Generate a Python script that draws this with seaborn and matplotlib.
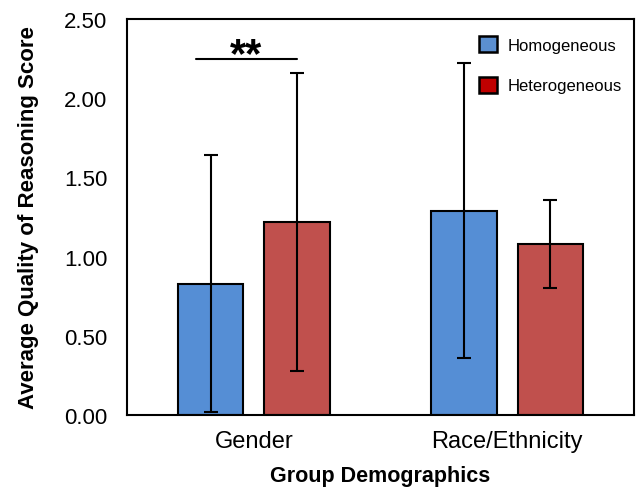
import matplotlib
matplotlib.use("Agg")
import matplotlib.pyplot as plt
from matplotlib.patches import Patch
import pandas as pd
import seaborn as sns

# Data
groups = ["Gender", "Race/Ethnicity"]
conditions = ["Homogeneous", "Heterogeneous"]
homogeneous_mean = [0.83, 1.29]
heterogeneous_mean = [1.22, 1.08]
homogeneous_sd = [0.81, 0.93]
heterogeneous_sd = [0.94, 0.28]

sns.set_style("white")
plt.rcParams["font.family"] = ["Liberation Sans", "DejaVu Sans"]
plt.rcParams["text.color"] = "black"
plt.rcParams["axes.labelcolor"] = "black"
plt.rcParams["xtick.color"] = "black"
plt.rcParams["ytick.color"] = "black"

df = pd.DataFrame({
    "Group": groups * 2,
    "Condition": [conditions[0]] * 2 + [conditions[1]] * 2,
    "Score": homogeneous_mean + heterogeneous_mean,
    "SD": homogeneous_sd + heterogeneous_sd,
})

bar_colors = {"Homogeneous": "#558ED5", "Heterogeneous": "#C0504D"}

fig = plt.figure(figsize=(6.38, 4.89), dpi=100)
ax = fig.add_axes([127 / 638, 1 - 416 / 489, (634 - 127) / 638, (416 - 20) / 489])

sns.barplot(
    data=df, x="Group", y="Score", hue="Condition", hue_order=conditions,
    order=groups, palette=bar_colors, width=0.68, gap=0.24, saturation=1,
    edgecolor="black", linewidth=1.5, errorbar=None, legend=False, ax=ax,
)

# Error bars on each bar
for i, cond in enumerate(conditions):
    sub = df[df["Condition"] == cond].set_index("Group").loc[groups]
    bars = ax.containers[i]
    xs = [b.get_x() + b.get_width() / 2 for b in bars]
    ax.errorbar(xs, sub["Score"], yerr=sub["SD"], fmt="none",
                ecolor="black", elinewidth=1.5, capsize=5, capthick=1.5)

# Significance marker
bars_h = ax.containers[0]
bars_t = ax.containers[1]
x1 = bars_h[0].get_x() + bars_h[0].get_width() * 0.27
x2 = bars_t[0].get_x() + bars_t[0].get_width() / 2
ax.plot([x1, x2], [2.25, 2.25], color="black", lw=1.5)
ax.text((x1 + x2) / 2, 2.2, "**", ha="center", va="baseline",
        fontsize=30, fontweight="bold")

ax.set_ylim(0, 2.5)
ax.set_xlim(-0.5, 1.5)
ax.set_yticks([0, 0.5, 1.0, 1.5, 2.0, 2.5])
ax.set_yticklabels([f"{v:.2f}" for v in ax.get_yticks()])
ax.tick_params(axis="y", labelsize=16, length=0, pad=14)
ax.tick_params(axis="x", labelsize=17, length=0, pad=11)
ax.set_xlabel("Group Demographics", fontsize=15.5, fontweight="bold", labelpad=9)
ax.set_ylabel("Average Quality of Reasoning Score", fontsize=16,
              fontweight="bold", labelpad=18)
for s in ax.spines.values():
    s.set_color("black")
    s.set_linewidth(1.5)

handles = [Patch(facecolor="#5B8FD0", edgecolor="black", linewidth=1.8),
           Patch(facecolor="#C00000", edgecolor="black", linewidth=1.8)]
ax.legend(handles, conditions, loc="upper right", frameon=False, fontsize=12,
          handlelength=1.1, handleheight=1.1, labelspacing=1.45,
          handletextpad=0.6, bbox_to_anchor=(1.005, 0.995))

fig.savefig("out.png", dpi=100)
